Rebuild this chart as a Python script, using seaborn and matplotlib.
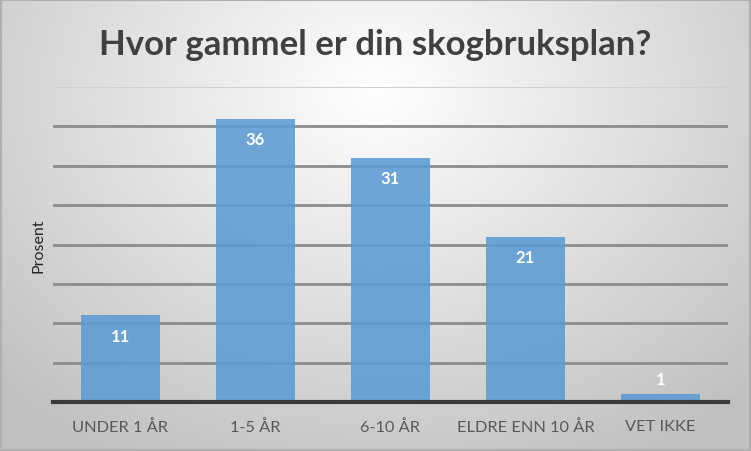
import numpy as np
import pandas as pd
import matplotlib
matplotlib.use("Agg")
import matplotlib.pyplot as plt
import seaborn as sns

categories = ["UNDER 1 ÅR", "1-5 ÅR", "6-10 ÅR", "ELDRE ENN 10 ÅR", "VET IKKE"]
values = [11, 36, 31, 21, 1]
title = "Hvor gammel er din skogbruksplan?"
ylabel = "Prosent"

sns.set_theme(style="white")
plt.rcParams['font.family'] = ['Lato', 'DejaVu Sans']

fig = plt.figure(figsize=(7.51, 4.52), dpi=100)

# background radial gradient
bg = fig.add_axes([0, 0, 1, 1], zorder=0)
h, w = 452, 751
yy, xx = np.mgrid[0:h, 0:w]
cx, cy = w * 0.5, h * 0.2
r = np.sqrt(((xx - cx) / (w * 0.72)) ** 2 + ((yy - cy) / (h * 0.95)) ** 2)
r = np.clip(r, 0, 1)
light = 1.0 - 0.25 * r
img = np.dstack([light, light, light])
bg.imshow(img, aspect='auto', extent=[0, 1, 0, 1])
bg.set_xlim(0, 1); bg.set_ylim(0, 1)
bg.axis('off')
fig.patches.append(plt.Rectangle((0, 0), 1, 1, transform=fig.transFigure,
                                 fill=False, edgecolor='#b0b0b0', linewidth=3, zorder=1))

ax = fig.add_axes([53 / 751, 1 - 403 / 452, 675 / 751, (403 - 88) / 452], zorder=2)
ax.patch.set_alpha(0)

df = pd.DataFrame({"cat": categories, "val": values})
sns.barplot(data=df, x="cat", y="val", ax=ax, color="#5b9bd5", width=0.59,
            saturation=1, alpha=0.88, zorder=3, linewidth=0, edgecolor='none')

ax.set_ylim(0, 40)
ax.set_xlim(-0.5, 4.5)
ax.set_yticks(np.arange(0, 41, 5))
ax.set_yticklabels([])
ax.tick_params(axis='y', length=0)
ax.tick_params(axis='x', length=0, pad=12, labelsize=11.8, labelcolor='#595959')
for y in np.arange(5, 40, 5):
    ax.axhline(y, color='#8c8c8c', linewidth=2, zorder=1)
ax.axhline(40, color='#d0d0d0', linewidth=1.5, zorder=1)
for s in ['left', 'right', 'top']:
    ax.spines[s].set_visible(False)
ax.spines['bottom'].set_color('#3a3a3a')
ax.spines['bottom'].set_linewidth(3)
ax.spines['bottom'].set_zorder(5)

for i, v in enumerate(values):
    if v >= 5:
        ax.text(i, v - 2.6, str(v), ha='center', va='center', color='white',
                fontsize=12, fontweight='bold', zorder=6)
    else:
        ax.text(i, v + 1.9, str(v), ha='center', va='center', color='white',
                fontsize=12, fontweight='bold', zorder=6)

ax.set_xlabel("")
ax.set_ylabel(ylabel, fontsize=11.5, color='#262626', labelpad=2)

fig.text(0.5, 1 - 45 / 452, title, ha='center', va='center', fontsize=25,
         fontweight='bold', color='#404040')

fig.savefig("out.png", dpi=100)
